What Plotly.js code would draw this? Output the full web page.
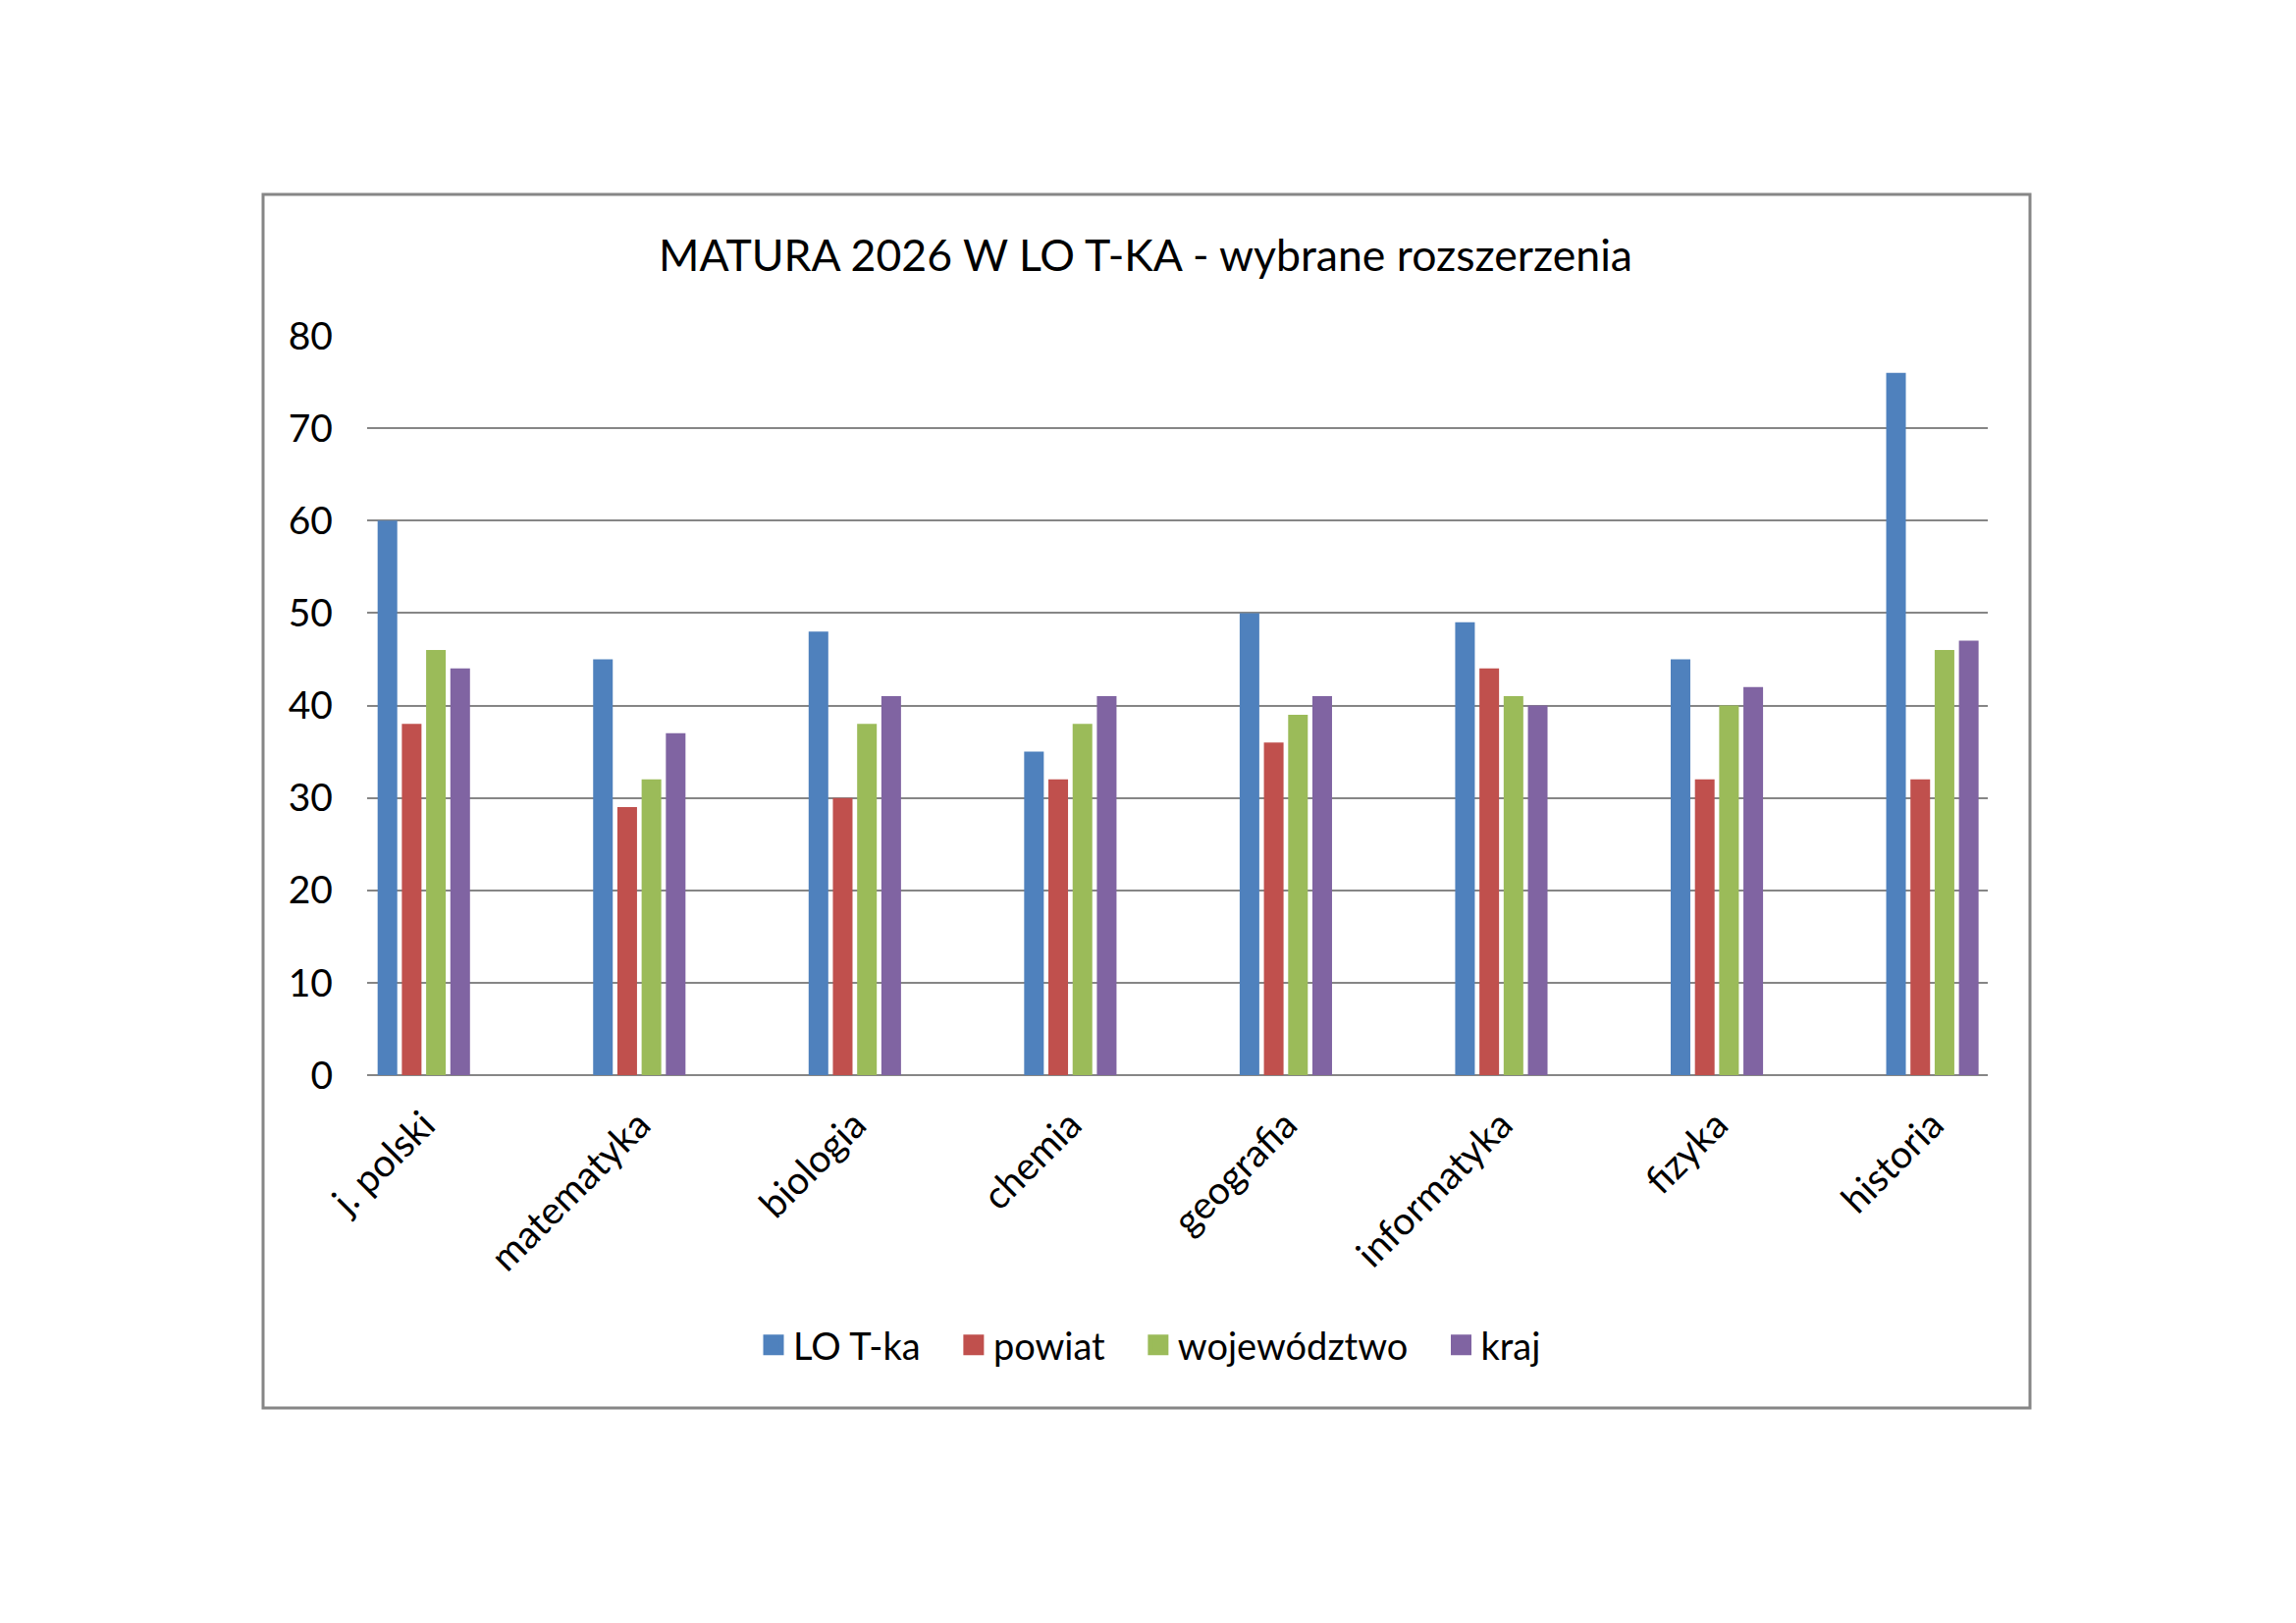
<!DOCTYPE html>
<html>
<head>
<meta charset="utf-8">
<script src="https://cdn.plot.ly/plotly-3.0.1.min.js"></script>
<style>
  html, body { margin: 0; padding: 0; background: #ffffff; }
  #chart { width: 2339px; height: 1653px; }
</style>
</head>
<body>
<div id="chart"></div>
<script>
// Subjects (extended-level exams) and average results per area
const subjects = ['j. polski', 'matematyka', 'biologia', 'chemia', 'geografia', 'informatyka', 'fizyka', 'historia'];
const seriesNames = ['LO T-ka', 'powiat', 'województwo', 'kraj'];
const loTka       = [60, 45, 48, 35, 50, 49, 45, 76];
const powiat      = [38, 29, 30, 32, 36, 44, 32, 32];
const wojewodztwo = [46, 32, 38, 38, 39, 41, 40, 46];
const kraj        = [44, 37, 41, 41, 41, 40, 42, 47];
const yTicks = [0, 10, 20, 30, 40, 50, 60, 70, 80];

const seriesValues = [loTka, powiat, wojewodztwo, kraj];
const seriesColors = ['#4F81BD', '#C0504D', '#9BBB59', '#8064A2'];

// Page and plot-area geometry (pixels)
const W = 2339, H = 1653;
const PL = 374, PR = 2025, PT = 342, PB = 1095;
const toPaperX = px => (px - PL) / (PR - PL);
const toPaperY = py => (PB - py) / (PB - PT);

const FONT = 'Lato, Carlito, "Open Sans", sans-serif';
const titleSize = 44.6;
const tickSize = 39;
const legendSize = 38;

// Bars
const traces = seriesNames.map((name, i) => ({
  type: 'bar',
  name: name,
  x: subjects,
  y: seriesValues[i],
  marker: { color: seriesColors[i], line: { width: 0 } },
  legendgroup: name,
  showlegend: false,
  hovertemplate: '%{x}: %{y}<extra>' + name + '</extra>'
}));

// Legend entries with larger square keys
const pad = '\u00a0\u00a0\u00a0';
seriesNames.forEach((name, i) => {
  traces.push({
    type: 'scatter',
    mode: 'markers',
    name: i < seriesNames.length - 1 ? name + pad : name,
    x: [null],
    y: [null],
    legendgroup: name,
    showlegend: true,
    hoverinfo: 'skip',
    marker: { symbol: 'square', size: 16, color: seriesColors[i], line: { width: 5, color: seriesColors[i] } }
  });
});

const layout = {
  width: W,
  height: H,
  paper_bgcolor: '#ffffff',
  plot_bgcolor: '#ffffff',
  font: { family: FONT, size: tickSize, color: '#000000' },
  margin: { l: PL, r: W - PR, t: PT, b: H - PB, pad: 0 },
  title: {
    text: 'MATURA 2026 W LO T-KA - wybrane rozszerzenia',
    font: { family: FONT, size: titleSize, color: '#000000' },
    xref: 'container',
    x: 1167 / W,
    xanchor: 'center',
    yref: 'container',
    y: 1 - 260 / H,
    yanchor: 'middle'
  },
  barmode: 'group',
  bargap: 0.55,
  bargroupgap: 0.19,
  xaxis: {
    type: 'category',
    range: [-0.263, 7.257],
    showgrid: false,
    showline: false,
    zeroline: false,
    ticks: '',
    tickangle: -45,
    ticklabelstandoff: 19,
    tickfont: { family: FONT, size: tickSize, color: '#000000' }
  },
  yaxis: {
    range: [0, 80],
    tickvals: yTicks,
    ticktext: yTicks.map(String),
    showgrid: true,
    gridcolor: '#868686',
    gridwidth: 2,
    zeroline: true,
    zerolinecolor: '#868686',
    zerolinewidth: 2,
    showline: false,
    ticks: '',
    ticklabelstandoff: 34,
    tickfont: { family: FONT, size: tickSize, color: '#000000' }
  },
  showlegend: true,
  legend: {
    orientation: 'h',
    x: toPaperX(768),
    xanchor: 'left',
    y: toPaperY(1370),
    yanchor: 'middle',
    bgcolor: 'rgba(0,0,0,0)',
    borderwidth: 0,
    font: { family: FONT, size: legendSize, color: '#000000' },
    itemclick: false,
    itemdoubleclick: false
  },
  shapes: [{
    type: 'rect',
    xref: 'paper', yref: 'paper',
    x0: toPaperX(268), x1: toPaperX(2068),
    y0: toPaperY(1434), y1: toPaperY(198),
    line: { color: '#868686', width: 3 },
    fillcolor: 'rgba(0,0,0,0)',
    layer: 'below'
  }]
};

Plotly.newPlot('chart', traces, layout, { displayModeBar: false, responsive: false });
</script>
</body>
</html>
